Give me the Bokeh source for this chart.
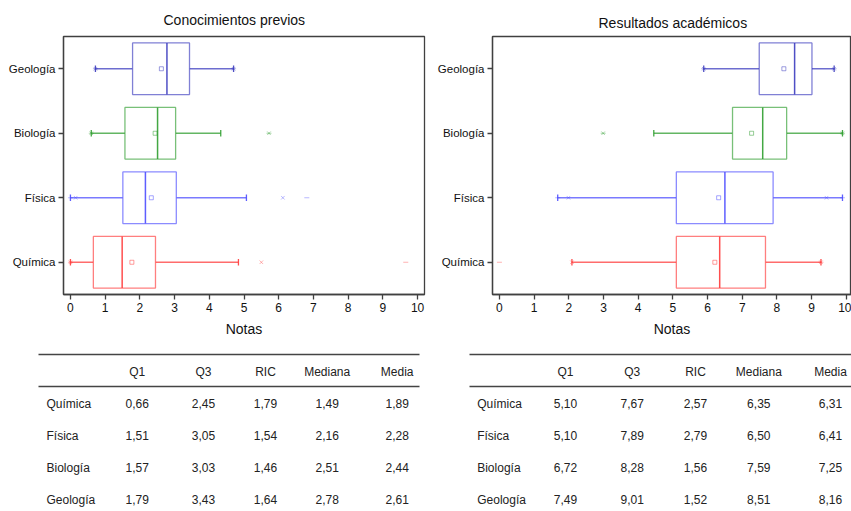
from bokeh.plotting import figure
from bokeh.models import Range1d, FixedTicker, ColumnDataSource, Title
from bokeh.layouts import row, column
from bokeh.embed import file_html
from bokeh.resources import INLINE
from bokeh.core.properties import value

# ---------------- data ----------------
cats = ["Química", "Física", "Biología", "Geología"]
cat_colors = ["#ff3b3b", "#4d4dff", "#2f9e2f", "#3c3cbf"]
x_ticks = [0, 1, 2, 3, 4, 5, 6, 7, 8, 9, 10]
table_header = ["Q1", "Q3", "RIC", "Mediana", "Media"]

# Conocimientos previos
prev_q1 = [0.66, 1.51, 1.57, 1.79]
prev_q3 = [2.45, 3.05, 3.03, 3.43]
prev_ric = [1.79, 1.54, 1.46, 1.64]
prev_med = [1.49, 2.16, 2.51, 2.78]
prev_mean = [1.89, 2.28, 2.44, 2.61]
prev_mean_mark = [1.77, 2.33, 2.44, 2.62]
prev_wlo = [0.0, 0.0, 0.60, 0.72]
prev_whi = [4.84, 5.07, 4.33, 4.70]
prev_pct_cat = ["Química", "Química", "Física", "Física", "Biología", "Biología", "Geología", "Geología"]
prev_pct_val = [0.0, 5.50, 0.15, 6.12, 0.60, 5.72, 0.72, 4.70]
prev_ext_cat = ["Química", "Química", "Física", "Física", "Biología", "Biología", "Geología", "Geología"]
prev_ext_val = [0.0, 9.66, 0.0, 6.81, 0.60, 5.72, 0.72, 4.70]

# Resultados académicos
res_q1 = [5.10, 5.10, 6.72, 7.49]
res_q3 = [7.67, 7.89, 8.28, 9.01]
res_ric = [2.57, 2.79, 1.56, 1.52]
res_med = [6.35, 6.50, 7.59, 8.51]
res_mean = [6.31, 6.41, 7.25, 8.16]
res_mean_mark = [6.21, 6.32, 7.27, 8.20]
res_wlo = [2.09, 1.68, 4.45, 5.89]
res_whi = [9.27, 9.89, 9.89, 9.65]
res_pct_cat = ["Química", "Química", "Física", "Física", "Biología", "Biología", "Geología", "Geología"]
res_pct_val = [2.09, 9.27, 1.99, 9.43, 2.99, 9.89, 5.89, 9.65]
res_ext_cat = ["Química", "Química", "Física", "Física", "Biología", "Biología", "Geología", "Geología"]
res_ext_val = [0.0, 9.27, 1.68, 9.89, 2.99, 9.89, 5.89, 9.65]

FONT = "Liberation Sans"
AX = "#404040"


def build_chart(title, q1, q3, med, mean_mark, wlo, whi, pct_cat, pct_val, ext_cat, ext_val,
                width, border_left, border_right, x_end, title_offset, title_standoff):
    p = figure(width=width, height=340, output_backend="svg", toolbar_location=None,
               x_range=Range1d(-0.2, x_end), y_range=Range1d(0.5, len(cats) + 0.5),
               min_border_left=border_left, min_border_right=border_right,
               min_border_top=36, min_border_bottom=46)
    p.title = Title(text=title, align="left", text_font=FONT, text_font_size="14px",
                    text_font_style="normal", text_color="#111111", offset=title_offset,
                    standoff=title_standoff)
    ypos = [i + 1 for i in range(len(cats))]
    src = ColumnDataSource(dict(
        y=ypos, q1=q1, q3=q3, med=med, mean=mean_mark, wlo=wlo, whi=whi, c=cat_colors,
        ylo=[v - 0.4 for v in ypos], yhi=[v + 0.4 for v in ypos],
        clo=[v - 0.05 for v in ypos], chi=[v + 0.05 for v in ypos]))
    p.segment(x0="wlo", x1="q1", y0="y", y1="y", line_color="c", line_width=1.3, line_alpha=0.75, source=src)
    p.segment(x0="q3", x1="whi", y0="y", y1="y", line_color="c", line_width=1.3, line_alpha=0.75, source=src)
    p.segment(x0="wlo", x1="wlo", y0="clo", y1="chi", line_color="c", line_width=1.3, line_alpha=0.9, source=src)
    p.segment(x0="whi", x1="whi", y0="clo", y1="chi", line_color="c", line_width=1.3, line_alpha=0.9, source=src)
    p.hbar(y="y", left="q1", right="q3", height=0.8, fill_color="white", line_color="c",
           line_width=1.3, line_alpha=0.65, source=src)
    p.segment(x0="med", x1="med", y0="ylo", y1="yhi", line_color="c", line_width=1.5, line_alpha=0.9, source=src)
    p.scatter(x="mean", y="y", marker="square", size=4, fill_color=None, line_color="c",
              line_width=1, line_alpha=0.5, source=src)

    cmap = dict(zip(cats, cat_colors))
    ymap = dict(zip(cats, ypos))
    psrc = ColumnDataSource(dict(x=pct_val, y=[ymap[c] for c in pct_cat], c=[cmap[c] for c in pct_cat]))
    esrc = ColumnDataSource(dict(x=ext_val, y=[ymap[c] for c in ext_cat], c=[cmap[c] for c in ext_cat]))
    p.scatter(x="x", y="y", marker="x", size=5, line_color="c", line_alpha=0.4, source=psrc)
    p.scatter(x="x", y="y", marker="dash", size=5, line_color="c", line_alpha=0.4, source=esrc)

    p.xgrid.visible = False
    p.ygrid.visible = False
    p.outline_line_color = AX
    p.outline_line_width = 1.3
    p.outline_line_alpha = 1
    for ax in (p.xaxis[0], p.yaxis[0]):
        ax.axis_line_color = AX
        ax.axis_line_width = 1.3
        ax.major_tick_line_color = AX
        ax.major_tick_line_width = 1.3
        ax.major_tick_out = 5
        ax.major_tick_in = 0
        ax.minor_tick_line_color = None
        ax.major_label_text_font = FONT
        ax.major_label_text_color = "#111111"
    p.xaxis.ticker = FixedTicker(ticks=x_ticks)
    p.xaxis.major_label_text_font_size = "12px"
    p.xaxis.major_label_standoff = 3
    p.xaxis.axis_label = "Notas"
    p.xaxis.axis_label_text_font = FONT
    p.xaxis.axis_label_text_font_size = "14px"
    p.xaxis.axis_label_text_font_style = "normal"
    p.xaxis.axis_label_text_color = "#111111"
    p.xaxis.axis_label_standoff = 6
    p.yaxis.ticker = FixedTicker(ticks=ypos)
    p.yaxis.major_label_overrides = {v: c for v, c in zip(ypos, cats)}
    p.yaxis.major_label_text_font_size = "11.5px"
    p.yaxis.major_label_standoff = 3
    return p


def build_table(q1, q3, ric, med, mean, width, label_x, col_x, rule_x0, rule_x1):
    H = 171
    p = figure(width=width, height=H, output_backend="svg", toolbar_location=None,
               x_range=Range1d(0, width), y_range=Range1d(H, 0),
               min_border=0, min_border_left=0, min_border_right=0,
               min_border_top=0, min_border_bottom=0)
    p.axis.visible = False
    p.xgrid.visible = False
    p.ygrid.visible = False
    p.outline_line_color = None

    header_y = 31.7
    row_y0, row_dy = 63.3, 32.0
    rule_ys = [14, 46]
    p.segment(x0=[rule_x0] * 2, x1=[rule_x1] * 2, y0=rule_ys, y1=rule_ys,
              line_color="#444444", line_width=1.4)

    fmt = lambda v: f"{v:.2f}".replace(".", ",")
    hx, hy, ht = [], [], []
    for j, h in enumerate(table_header):
        hx.append(col_x[j]); hy.append(header_y); ht.append(h)
    p.text(x=hx, y=hy, text=ht, text_align="center", text_baseline="middle",
           text_font=value(FONT), text_font_size="12px", text_color="#222222")

    cols = [q1, q3, ric, med, mean]
    vx, vy, vt = [], [], []
    lx, ly, lt = [], [], []
    for i, c in enumerate(cats):
        yy = row_y0 + i * row_dy
        lx.append(label_x); ly.append(yy); lt.append(c)
        for j, arr in enumerate(cols):
            vx.append(col_x[j]); vy.append(yy); vt.append(fmt(arr[i]))
    p.text(x=lx, y=ly, text=lt, text_align="left", text_baseline="middle",
           text_font=value(FONT), text_font_size="12px", text_color="#222222")
    p.text(x=vx, y=vy, text=vt, text_align="center", text_baseline="middle",
           text_font=value(FONT), text_font_size="12px", text_color="#222222")
    return p


left_chart = build_chart("Conocimientos previos", prev_q1, prev_q3, prev_med, prev_mean_mark,
                         prev_wlo, prev_whi, prev_pct_cat, prev_pct_val, prev_ext_cat, prev_ext_val,
                         width=430, border_left=63, border_right=6, x_end=10.2,
                         title_offset=100, title_standoff=17)
right_chart = build_chart("Resultados académicos", res_q1, res_q3, res_med, res_mean_mark,
                          res_wlo, res_whi, res_pct_cat, res_pct_val, res_ext_cat, res_ext_val,
                          width=421, border_left=62, border_right=0, x_end=10.15,
                          title_offset=106, title_standoff=11)

left_table = build_table(prev_q1, prev_q3, prev_ric, prev_med, prev_mean, width=430,
                         label_x=46, col_x=[136.7, 203, 265, 326.7, 396.7], rule_x0=38, rule_x1=419)
right_table = build_table(res_q1, res_q3, res_ric, res_med, res_mean, width=421,
                          label_x=46.7, col_x=[135, 201.7, 265, 328.3, 400], rule_x0=39, rule_x1=421)

layout = column(row(left_chart, right_chart), row(left_table, right_table))

open("out.html", "w").write(file_html(layout, INLINE))
